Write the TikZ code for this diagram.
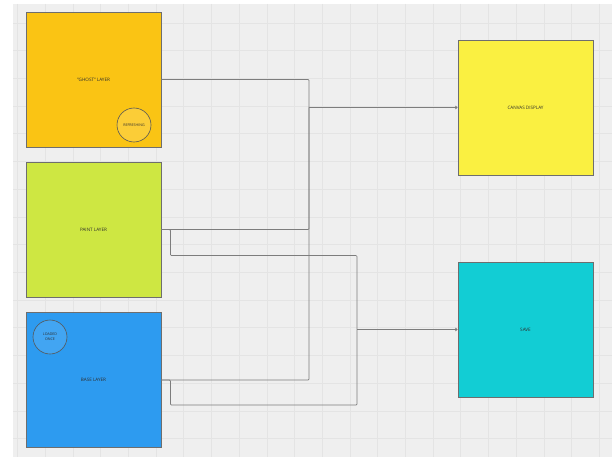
\documentclass[tikz,border=0pt]{standalone}
\usepackage{fontspec}
\setmainfont{Open Sans}
\usetikzlibrary{arrows.meta}
\definecolor{ghostcol}{RGB}{250,196,20}
\definecolor{paintcol}{RGB}{206,231,66}
\definecolor{basecol}{RGB}{45,155,240}
\definecolor{canvascol}{RGB}{250,240,65}
\definecolor{savecol}{RGB}{18,205,212}
\definecolor{boardcol}{RGB}{239,239,239}
\definecolor{gridcol}{RGB}{228,228,228}
\definecolor{edgecol}{RGB}{110,110,110}
\definecolor{wirecol}{RGB}{125,125,125}
\definecolor{inkcol}{RGB}{45,45,45}
\tikzstyle{layer} = [rectangle, minimum size=135pt, inner sep=0pt, draw=edgecol, line width=0.8pt, text=inkcol, font=\fontsize{4.6}{5.5}\selectfont]
\tikzstyle{badge} = [circle, minimum size=34pt, inner sep=0pt, draw=inkcol!80, line width=0.6pt, text=inkcol, align=center, font=\fontsize{3.6}{5}\selectfont]
\tikzstyle{wire} = [draw=wirecol, line width=0.7pt, rounded corners=1pt]
\tikzstyle{feed} = [wire, -{To[length=2.5pt,width=3.5pt]}]

\begin{document}
\begin{tikzpicture}[x=1pt, y=-1pt]
			\useasboundingbox (0,0) rectangle (612,457);
			\fill[white] (0,0) rectangle (612,457);
			\fill[boardcol] (13,4) rectangle (612,457);
			\begin{scope}
				\clip (13,4) rectangle (612,457);
				\foreach \gx in {0,...,21} {\draw[gridcol, line width=0.6pt] (17.5+27.7*\gx,4) -- (17.5+27.7*\gx,457);}
				\foreach \gy in {0,...,15} {\draw[gridcol, line width=0.6pt] (13,23+27.7*\gy) -- (612,23+27.7*\gy);}
			\end{scope}
			% layers on the left
			\node [layer, fill=ghostcol] (ghost) at (93.5,79.5) {"GHOST" LAYER};
			\node [layer, fill=paintcol] (paint) at (93.5,229.5) {PAINT LAYER};
			\node [layer, fill=basecol] (base) at (93.5,380) {BASE LAYER};
			\node [badge, fill=ghostcol!85!white] (refresh) at (134,125) {REFRESHING};
			\node [badge, fill=basecol!90!white] (once) at (50,337) {LOADED\\ONCE};
			% outputs on the right
			\node [layer, fill=canvascol] (canvas) at (525.5,107.5) {CANVAS DISPLAY};
			\node [layer, fill=savecol] (save) at (525.5,329.5) {SAVE};
			% connectors
			\coordinate (mergeA) at (309,107.5);
			\coordinate (mergeB) at (357,329.5);
			\draw[wire] (ghost.east) -| (mergeA);
			\draw[wire] (paint.east) -| (mergeA);
			\draw[wire] (base.east) -| (mergeA);
			\draw[feed] (mergeA) -- (canvas.west);
			\draw[wire] (paint.east) -- ++(9,0) -- ++(0,26) -| (mergeB);
			\draw[wire] (base.east) -- ++(9,0) -- ++(0,25) -| (mergeB);
			\draw[feed] (mergeB) -- (save.west);
		\end{tikzpicture}
\end{document}
